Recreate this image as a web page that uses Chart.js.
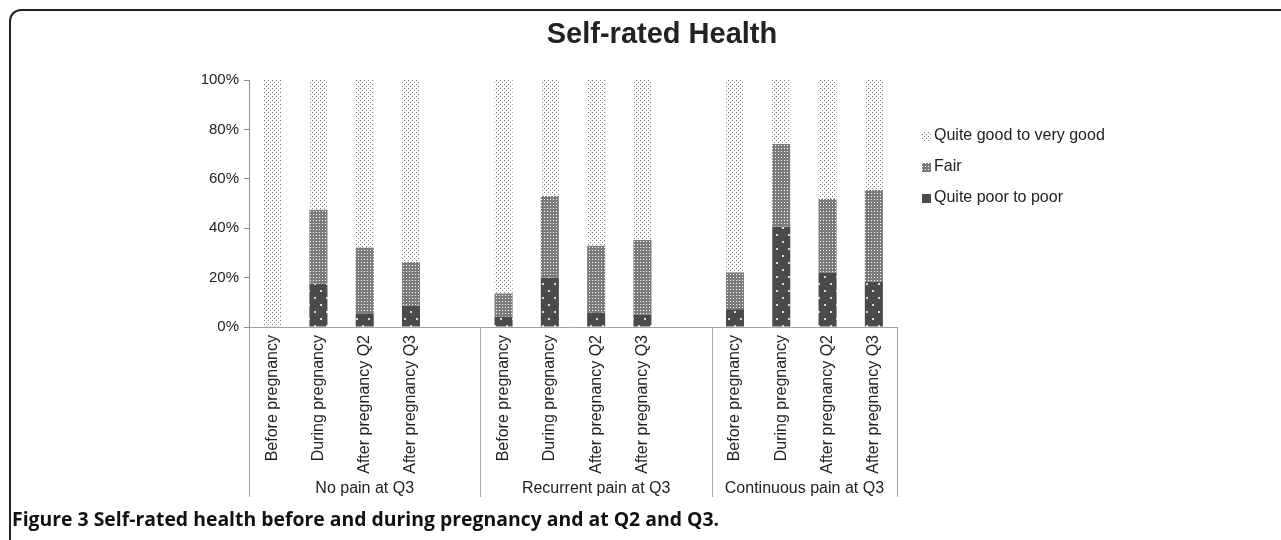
<!DOCTYPE html>
<html>
<head>
<meta charset="utf-8">
<script src="https://cdn.jsdelivr.net/npm/chart.js@4.4.1/dist/chart.umd.min.js"></script>
<style>
  html, body { margin: 0; padding: 0; background: #fff; }
  #wrap { position: relative; width: 1281px; height: 540px; overflow: hidden; }
  #frame { position: absolute; left: 9px; top: 9px; width: 1320px; height: 600px;
           border-top: 2px solid #222; border-left: 2px solid #222; border-top-left-radius: 12px; }
  #title { position: absolute; left: 0; width: 1324px; top: 17px; text-align: center;
           font: bold 29px "Liberation Sans", Arial, sans-serif; color: #222; }
  #caption { position: absolute; left: 12px; top: 505px; white-space: nowrap;
             font: bold 19.4px "Open Sans", sans-serif; color: #111; }
  canvas { position: absolute; left: 0; top: 0; }
</style>
</head>
<body>
<div id="wrap">
  <div id="frame"></div>
  <canvas id="health" width="1281" height="540"></canvas>
  <div id="title">Self-rated Health</div>
  <div id="caption">Figure 3 Self-rated health before and during pregnancy and at Q2 and Q3.</div>
</div>
<script>
// categories (blank slots separate the three groups, like the Excel chart)
const categories = [
  'Before pregnancy', 'During pregnancy', 'After pregnancy Q2', 'After pregnancy Q3', '',
  'Before pregnancy', 'During pregnancy', 'After pregnancy Q2', 'After pregnancy Q3', '',
  'Before pregnancy', 'During pregnancy', 'After pregnancy Q2', 'After pregnancy Q3'
];
const groups = ['No pain at Q3', 'Recurrent pain at Q3', 'Continuous pain at Q3'];
const groupStart = [0, 5, 10];
const groupSpan = [5, 5, 4];

// percentages
const poor = [0, 17.5, 5.5, 8.6, null, 4.2, 20, 5.8, 5, null, 7.2, 40.6, 22.1, 18.3];
const fair = [0, 30, 26.7, 17.7, null, 9.4, 33, 27.1, 30.2, null, 14.9, 33.5, 29.7, 37.2];
const good = [100, 52.5, 67.8, 73.7, null, 86.4, 47, 67.1, 64.8, null, 77.9, 25.9, 48.2, 44.5];

const yTicks = [0, 20, 40, 60, 80, 100];

// little fill patterns like the print version
function makePattern(w, h, bg, dots, dotColor, size) {
  const c = document.createElement('canvas');
  c.width = w; c.height = h;
  const g = c.getContext('2d');
  if (bg) { g.fillStyle = bg; g.fillRect(0, 0, w, h); }
  g.fillStyle = dotColor;
  dots.forEach(d => g.fillRect(d[0], d[1], size, size));
  return document.getElementById('health').getContext('2d').createPattern(c, 'repeat');
}
const goodFill = makePattern(4, 4, null, [[0, 0], [2, 2]], '#7a7a7a', 1);
const fairFill = makePattern(3, 3, '#7b7b7b', [[1, 1]], '#ffffff', 1);
const poorFill = makePattern(12, 14, '#4a4a4c', [[2, 3], [8, 10]], '#d8d8d8', 2);

const FONT = '"Liberation Sans", Arial, sans-serif';

// group labels + separators under the axis
const groupPlugin = {
  id: 'groupLabels',
  afterDraw(chart) {
    const ctx = chart.ctx, x = chart.scales.x, area = chart.chartArea;
    const slot = x.getPixelForValue(1) - x.getPixelForValue(0);
    ctx.save();
    ctx.strokeStyle = '#a8a8a8';
    ctx.lineWidth = 1;
    ctx.fillStyle = '#222';
    ctx.font = '16px ' + FONT;
    ctx.textAlign = 'center';
    ctx.textBaseline = 'middle';
    groups.forEach((name, i) => {
      const left = x.getPixelForValue(groupStart[i]) - slot / 2;
      const right = x.getPixelForValue(groupStart[i] + groupSpan[i] - 1) + slot / 2;
      [left, right].forEach(px => {
        ctx.beginPath();
        ctx.moveTo(Math.round(px) + 0.5, area.bottom);
        ctx.lineTo(Math.round(px) + 0.5, 497);
        ctx.stroke();
      });
      ctx.fillText(name, (left + right) / 2, 489);
    });
    ctx.restore();
  }
};

// legend on the right, top item = top of the stack
const legendPlugin = {
  id: 'sideLegend',
  afterDraw(chart) {
    const ctx = chart.ctx;
    const items = chart.data.datasets.slice().reverse();
    ctx.save();
    ctx.font = '16px ' + FONT;
    ctx.textBaseline = 'middle';
    ctx.textAlign = 'left';
    items.forEach((ds, i) => {
      const y = 136 + i * 31;
      ctx.fillStyle = ds.swatch || ds.backgroundColor;
      ctx.fillRect(922, y - 4, 9, 9);
      ctx.fillStyle = '#222';
      ctx.fillText(ds.label, 934, y);
    });
    ctx.restore();
  }
};

const data = {
  labels: categories,
  datasets: [
    { label: 'Quite poor to poor', data: poor, backgroundColor: poorFill, swatch: '#4a4a4c' },
    { label: 'Fair', data: fair, backgroundColor: fairFill },
    { label: 'Quite good to very good', data: good, backgroundColor: goodFill }
  ]
};

const config = {
  type: 'bar',
  data: data,
  options: {
    responsive: false,
    animation: false,
    layout: { padding: { left: 189, right: 384, top: 80, bottom: 43 } },
    datasets: { bar: { categoryPercentage: 1, barPercentage: 0.39, borderWidth: 0 } },
    plugins: {
      legend: { display: false },
      title: { display: false },
      tooltip: { enabled: false }
    },
    scales: {
      x: {
        stacked: true,
        grid: { display: false },
        border: { display: true, color: '#a0a0a0', width: 1 },
        ticks: {
          autoSkip: false, minRotation: 90, maxRotation: 90, padding: 0,
          color: '#222', font: { family: FONT, size: 16 }
        },
        afterFit: s => { s.height = 170; }
      },
      y: {
        stacked: true,
        min: 0, max: 100,
        afterBuildTicks: s => { s.ticks = yTicks.map(v => ({ value: v })); },
        grid: { drawOnChartArea: false, drawTicks: true, tickLength: 5, color: '#909090' },
        border: { display: true, color: '#909090', width: 1 },
        ticks: {
          padding: 5, color: '#222', font: { family: FONT, size: 15 },
          callback: v => v + '%'
        },
        afterFit: s => { s.width = 60; }
      }
    }
  },
  plugins: [groupPlugin, legendPlugin]
};

let healthChart = new Chart(document.getElementById('health').getContext('2d'), config);
</script>
</body>
</html>
